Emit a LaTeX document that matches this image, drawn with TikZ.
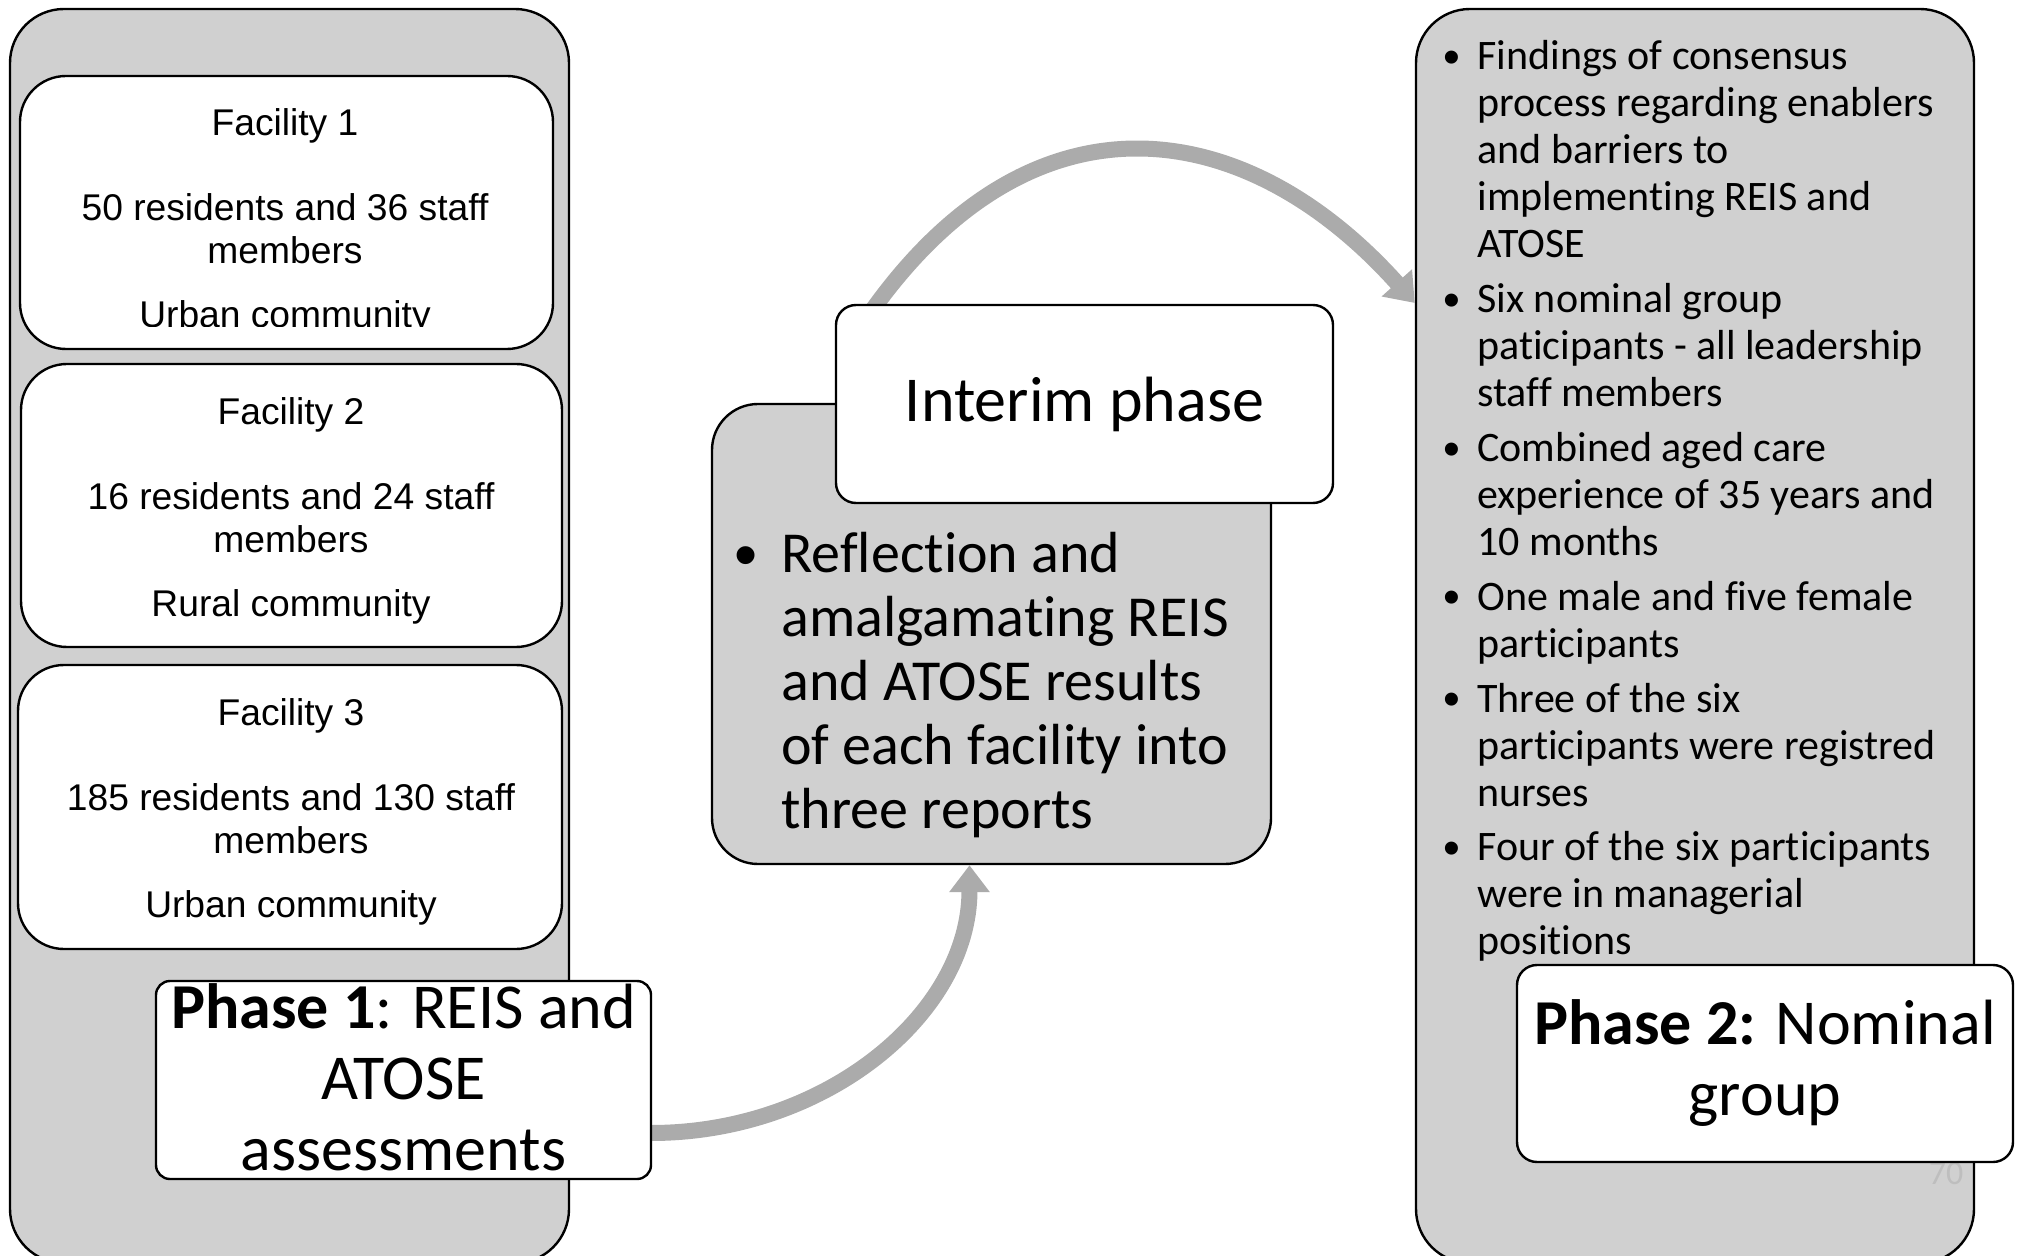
\documentclass[tikz,border=0pt]{standalone}
\usepackage{fontspec}
\setmainfont{Carlito}[Ligatures=NoCommon]
\newfontfamily\arialfont{Liberation Sans}
\usetikzlibrary{positioning,arrows.meta}
\definecolor{panelgray}{HTML}{D0D0D0}
\definecolor{arrowgray}{HTML}{ABABAB}
\definecolor{pagegray}{HTML}{BEBEBE}

\begin{document}
\begin{tikzpicture}[
    x=0.5pt, y=-0.5pt,
    panel/.style={
        draw, line width=1.2pt, fill=panelgray,
        rounded corners=27pt, inner sep=0pt
    },
    facbox/.style={
        draw, line width=1.2pt, fill=white,
        rounded corners=23pt, inner sep=0pt
    },
    tagbox/.style={
        draw, line width=1.2pt, fill=white,
        rounded corners=8pt, inner sep=0pt
    },
    factxt/.style={inner sep=0pt, align=center,
        font=\arialfont\fontsize{18.6}{21.5}\selectfont},
    tagtxt/.style={inner sep=0pt, align=center,
        font=\fontsize{32}{35.5}\selectfont},
    refltxt/.style={inner sep=0pt, align=left, anchor=north west,
        font=\fontsize{29}{32}\selectfont,
        execute at begin node=\strut, execute at end node=\strut},
    reflbul/.style={inner sep=0pt, anchor=north,
        font=\arialfont\fontsize{33}{32}\selectfont,
        execute at begin node=\strut},
    itemtxt/.style={inner sep=0pt, align=left, anchor=north west,
        font=\fontsize{21}{23.5}\selectfont,
        execute at begin node=\strut, execute at end node=\strut},
    itembul/.style={inner sep=0pt, anchor=north,
        font=\arialfont\fontsize{24}{23.5}\selectfont,
        execute at begin node=\strut},
    flow/.style={
        draw=arrowgray, line width=8pt,
        -{Triangle[width=19.5pt, length=13.5pt]}
    }
]
\useasboundingbox (0,0) rectangle (2018,1256);

% ----------------------------------------------------------
% Grosse Felder (Phase 1, Zwischenphase, Phase 2)
% ----------------------------------------------------------
\node[panel, minimum width=279.5pt, minimum height=627pt] (lbox) at (289.5, 636) {};
\node[panel, minimum width=279.5pt, minimum height=230pt,
      rounded corners=23pt] (ibox) at (991.5, 634) {};
\node[panel, minimum width=279pt, minimum height=627pt] (rbox) at (1695, 636) {};

% Seitenzahl
\node[font=\fontsize{17}{20}\selectfont, text=pagegray, inner sep=0pt] (pgno) at (1946, 1174) {70};

% ----------------------------------------------------------
% Pfeile (liegen unter den weissen Kaesten)
% ----------------------------------------------------------
\coordinate (p1out) at (651, 1133);
\draw[flow] (p1out) .. controls +(175,0) and +(0,148) .. ([xshift=-11pt]ibox.south);
\coordinate (iout) at (862, 325);
\draw[flow] (iout) .. controls +(165,-245) and +(-170,-190) .. ([yshift=166.5pt]rbox.west);

% ----------------------------------------------------------
% Drei Einrichtungen
% ----------------------------------------------------------
\node[facbox, minimum width=266.5pt, minimum height=136.5pt] (fac1) at (286.5, 212.5) {};
\node[facbox, minimum width=270.5pt, minimum height=141.5pt] (fac2) at (291.5, 505.5) {};
\node[facbox, minimum width=272pt, minimum height=142pt] (fac3) at (290, 807) {};

% Text von Einrichtung 1 ist unten abgeschnitten
\begin{scope}
    \clip (20, 76) rectangle (553, 327);
    \node[factxt] (fac1txt) at (285, 221.7)
        {Facility 1\\[21pt]50 residents and 36 staff\\members\\[10.5pt]Urban community};
\end{scope}
\node[factxt] (fac2txt) at (291, 511.2)
    {Facility 2\\[21pt]16 residents and 24 staff\\members\\[10.5pt]Rural community};
\node[factxt] (fac3txt) at (291, 812.2)
    {Facility 3\\[21pt]185 residents and 130 staff\\members\\[10.5pt]Urban community};

% ----------------------------------------------------------
% Beschriftungen der Phasen
% ----------------------------------------------------------
\node[tagbox, minimum width=247.5pt, minimum height=99pt, rounded corners=7pt] (p1) at (403.5, 1080) {};
\node[tagtxt] (p1txt) at ([yshift=1.5pt]p1.center) {\textbf{Phase 1}: REIS and\\ATOSE\\assessments};

\node[tagbox, minimum width=248.5pt, minimum height=99pt, rounded corners=10pt] (ititle) at (1084.5, 404) {};
\node[tagtxt] (ititletxt) at (ititle.center) {Interim phase};

\node[tagbox, minimum width=248pt, minimum height=98.5pt, rounded corners=10pt] (p2) at (1765, 1063.5) {};
\node[tagtxt] (p2txt) at (p2.center) {\textbf{Phase 2:} Nominal\\group};

% ----------------------------------------------------------
% Zwischenphase: Aufzaehlung
% ----------------------------------------------------------
\node[refltxt] (refl) at (781, 532)
    {Reflection and\\amalgamating REIS\\and ATOSE results\\of each facility into\\three reports};
\node[reflbul] (reflb) at ([xshift=-17.5pt]refl.north west) {\textbullet};

% ----------------------------------------------------------
% Phase 2: Aufzaehlung
% ----------------------------------------------------------
\node[itemtxt] (it1) at (1477, 40)
    {Findings of consensus\\process regarding enablers\\and barriers to\\implementing REIS and\\ATOSE};
\node[itemtxt, below=5.4pt of it1.south west, anchor=north west] (it2)
    {Six nominal group\\paticipants - all leadership\\staff members};
\node[itemtxt, below=5.4pt of it2.south west, anchor=north west] (it3)
    {Combined aged care\\experience of 35 years and\\10 months};
\node[itemtxt, below=5.4pt of it3.south west, anchor=north west] (it4)
    {One male and five female\\participants};
\node[itemtxt, below=5.4pt of it4.south west, anchor=north west] (it5)
    {Three of the six\\participants were registred\\nurses};
\node[itemtxt, below=5.4pt of it5.south west, anchor=north west] (it6)
    {Four of the six participants\\were in managerial\\positions};
\foreach \k in {1,...,6} {
    \node[itembul] (bul\k) at ([xshift=-12.5pt]it\k.north west) {\textbullet};
}

\end{tikzpicture}
\end{document}
